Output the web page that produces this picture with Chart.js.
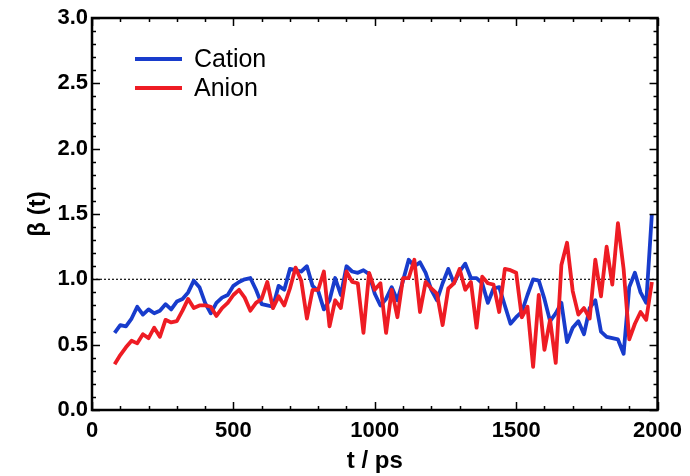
<!DOCTYPE html>
<html>
<head>
<meta charset="utf-8">
<script src="https://cdn.jsdelivr.net/npm/chart.js@4"></script>
<style>
  body { margin: 0; background: #fff; }
  canvas { display: block; }
</style>
</head>
<body>
<canvas id="betaChart" width="690" height="476"></canvas>
<script>
// Datos
const time = [
  80, 100, 120, 140, 160, 180, 200, 220, 240, 260,
  280, 300, 320, 340, 360, 380, 400, 420, 440, 460,
  480, 500, 520, 540, 560, 580, 600, 620, 640, 660,
  680, 700, 720, 740, 760, 780, 800, 820, 840, 860,
  880, 900, 920, 940, 960, 980, 1000, 1020, 1040, 1060,
  1080, 1100, 1120, 1140, 1160, 1180, 1200, 1220, 1240, 1260,
  1280, 1300, 1320, 1340, 1360, 1380, 1400, 1420, 1440, 1460,
  1480, 1500, 1520, 1540, 1560, 1580, 1600, 1620, 1640, 1660,
  1680, 1700, 1720, 1740, 1760, 1780, 1800, 1820, 1840, 1860,
  1880, 1900, 1920, 1940, 1960, 1980
];

const cation = [
  0.59, 0.65, 0.64, 0.70, 0.79, 0.73, 0.77, 0.74, 0.76, 0.81,
  0.77, 0.83, 0.85, 0.90, 0.99, 0.94, 0.82, 0.74, 0.82, 0.86,
  0.88, 0.95, 0.98, 1.00, 1.01, 0.92, 0.81, 0.80, 0.79, 0.95,
  0.92, 1.08, 1.07, 1.06, 1.10, 0.95, 0.91, 0.77, 0.84, 1.01,
  0.88, 1.10, 1.06, 1.05, 1.07, 1.04, 0.89, 0.80, 0.85, 0.94,
  0.84, 0.99, 1.15, 1.10, 1.13, 1.05, 0.92, 0.84, 0.97, 1.08,
  0.97, 1.06, 1.12, 1.01, 1.01, 0.97, 0.82, 0.93, 0.94, 0.80,
  0.66, 0.71, 0.75, 0.88, 1.00, 0.99, 0.85, 0.68, 0.74, 0.82,
  0.52, 0.63, 0.68, 0.58, 0.78, 0.84, 0.60, 0.56, 0.55, 0.54,
  0.43, 0.94, 1.05, 0.90, 0.82, 1.50
];

const anion = [
  0.35, 0.42, 0.48, 0.53, 0.51, 0.58, 0.55, 0.63, 0.56, 0.69,
  0.67, 0.68, 0.76, 0.85, 0.78, 0.80, 0.80, 0.79, 0.72, 0.78,
  0.82, 0.88, 0.92, 0.86, 0.76, 0.82, 0.85, 0.98, 0.78, 0.87,
  0.80, 0.93, 1.09, 0.99, 0.70, 0.92, 0.92, 1.06, 0.64, 0.84,
  0.78, 1.06, 0.98, 0.97, 0.59, 1.05, 0.92, 0.97, 0.59, 0.92,
  0.71, 1.01, 1.01, 1.15, 0.75, 0.98, 0.93, 0.89, 0.65, 0.93,
  0.97, 1.08, 0.92, 0.98, 0.63, 1.02, 0.97, 0.96, 0.75, 1.08,
  1.07, 1.05, 0.71, 0.79, 0.33, 0.88, 0.46, 0.69, 0.36, 1.11,
  1.28, 0.91, 0.73, 0.78, 0.70, 1.15, 0.87, 1.25, 0.96, 1.43,
  1.08, 0.54, 0.66, 0.75, 0.69, 0.98
];

const refLine = [{ x: 0, y: 1 }, { x: 2000, y: 1 }];
const xTicks = [0, 500, 1000, 1500, 2000];
const yTicks = [0, 0.5, 1.0, 1.5, 2.0, 2.5, 3.0];

const FONT = '"Liberation Sans", Arial, sans-serif';
const pts = vals => time.map((t, i) => ({ x: t, y: vals[i] }));

// marco y marcas hacia dentro en los cuatro lados
const frameTicks = {
  id: 'frameTicks',
  afterDatasetsDraw(chart) {
    const { ctx, chartArea: a, scales: { x, y } } = chart;
    ctx.save();
    ctx.strokeStyle = '#000';
    ctx.lineWidth = 1.5;
    ctx.beginPath();
    for (let v = 0; v <= 2000; v += 100) {
      const px = Math.round(x.getPixelForValue(v)) + 0.5;
      const len = v % 500 === 0 ? 8 : 4;
      ctx.moveTo(px, a.bottom); ctx.lineTo(px, a.bottom - len);
      ctx.moveTo(px, a.top); ctx.lineTo(px, a.top + len);
    }
    for (let k = 0; k <= 30; k++) {
      const py = Math.round(y.getPixelForValue(k / 10)) + 0.5;
      const len = k % 5 === 0 ? 8 : 4;
      ctx.moveTo(a.left, py); ctx.lineTo(a.left + len, py);
      ctx.moveTo(a.right, py); ctx.lineTo(a.right - len, py);
    }
    ctx.stroke();
    ctx.lineWidth = 2.5;
    ctx.strokeRect(a.left, a.top, a.right - a.left, a.bottom - a.top);
    ctx.restore();
  }
};

// leyenda dentro del área
const insideLegend = {
  id: 'insideLegend',
  afterDraw(chart) {
    const ctx = chart.ctx;
    ctx.save();
    ctx.font = '25px ' + FONT;
    ctx.textBaseline = 'middle';
    chart.data.datasets.slice(0, 2).forEach((ds, k) => {
      const yy = 59 + k * 29;
      ctx.strokeStyle = ds.borderColor;
      ctx.lineWidth = 4;
      ctx.beginPath();
      ctx.moveTo(135, yy);
      ctx.lineTo(182, yy);
      ctx.stroke();
      ctx.fillStyle = '#000';
      ctx.fillText(ds.label, 194, yy + 1);
    });
    ctx.restore();
  }
};

new Chart(document.getElementById('betaChart'), {
  type: 'line',
  data: {
    datasets: [
      { label: 'Cation', data: pts(cation), borderColor: 'rgb(24,60,204)', borderWidth: 3.8, borderJoinStyle: 'round', pointRadius: 0, tension: 0, order: 2 },
      { label: 'Anion', data: pts(anion), borderColor: 'rgb(238,28,36)', borderWidth: 3.8, borderJoinStyle: 'round', pointRadius: 0, tension: 0, order: 1 },
      { label: 'ref', data: refLine, borderColor: '#222', borderWidth: 1.3, borderDash: [2, 2], pointRadius: 0, order: 3 }
    ]
  },
  options: {
    responsive: false,
    animation: false,
    layout: { padding: { left: 0, top: 18, right: 26, bottom: 0 } },
    plugins: { legend: { display: false }, tooltip: { enabled: false } },
    scales: {
      x: {
        type: 'linear',
        min: 0, max: 2000,
        afterBuildTicks: s => { s.ticks = xTicks.map(v => ({ value: v })); },
        afterFit: s => { s.height = 66; },
        grid: { display: false, drawTicks: false },
        border: { display: false },
        ticks: { color: '#000', padding: 8, maxRotation: 0, callback: v => String(v), font: { family: FONT, size: 22, weight: 'bold' } },
        title: { display: true, text: 't / ps', color: '#000', padding: { top: 0, bottom: 0 }, font: { family: FONT, size: 24, weight: 'bold' } }
      },
      y: {
        min: 0, max: 3,
        afterBuildTicks: s => { s.ticks = yTicks.map(v => ({ value: v })); },
        afterFit: s => { s.width = 92; },
        grid: { display: false, drawTicks: false },
        border: { display: false },
        ticks: { color: '#000', padding: 4, callback: v => v.toFixed(1), font: { family: FONT, size: 22, weight: 'bold' } },
        title: { display: true, text: 'β (t)', color: '#000', padding: { top: 24, bottom: 0 }, font: { family: FONT, size: 24, weight: 'bold' } }
      }
    }
  },
  plugins: [frameTicks, insideLegend]
});
</script>
</body>
</html>
